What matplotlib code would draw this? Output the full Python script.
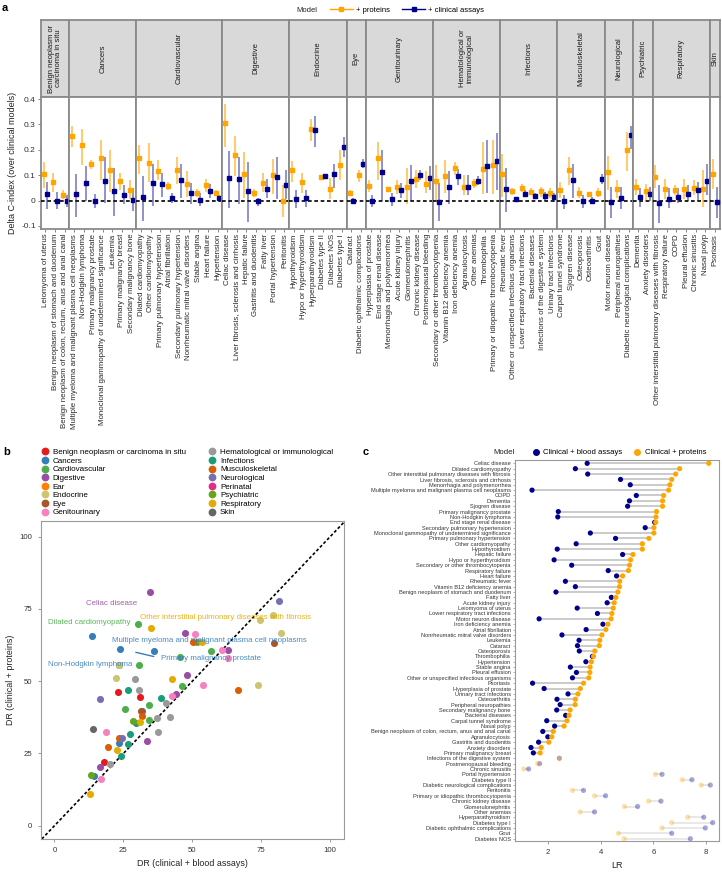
import matplotlib
matplotlib.use("Agg")
import matplotlib.pyplot as plt
from matplotlib.lines import Line2D
from matplotlib.colors import to_rgba
import numpy as np

plt.rcParams['font.family'] = ['Liberation Sans', 'DejaVu Sans']
plt.rcParams['axes.unicode_minus'] = False

# ---------------- Panel a data ----------------
a_groups = ["Benign neoplasm or\ncarcinoma in situ", "Cancers", "Cardiovascular", "Digestive",
            "Endocrine", "Eye", "Genitourinary", "Hematological or\nimmunological", "Infections",
            "Musculoskeletal", "Neurological", "Psychiatric", "Respiratory", "Skin"]
a_group_sizes = [3, 7, 9, 7, 6, 2, 7, 7, 6, 5, 3, 2, 6, 1]
a_diseases = [
    "Leiomyoma of uterus", "Benign neoplasm of stomach and duodenum",
    "Benign neoplasm of colon, rectum, anus and anal canal",
    "Multiple myeloma and malignant plasma cell neoplasms", "Non-Hodgkin lymphoma",
    "Primary malignancy prostate", "Monoclonal gammopathy of undetermined significance",
    "Leukemia", "Primary malignancy breast", "Secondary malignancy bone",
    "Dilated cardiomyopathy", "Other cardiomyopathy", "Primary pulmonary hypertension",
    "Atrial fibrillation", "Secondary pulmonary hypertension", "Nonrheumatic mitral valve disorders",
    "Stable angina", "Heart failure", "Hypertension",
    "Celiac disease", "Liver fibrosis, sclerosis and cirrhosis", "Hepatic failure",
    "Gastritis and duodenitis", "Fatty liver", "Portal hypertension", "Peritonitis",
    "Hypothyroidism", "Hypo or hyperthyroidism", "Hyperparathyroidism", "Diabetes type II",
    "Diabetes NOS", "Diabetes type I",
    "Cataract", "Diabetic ophthalmic complications",
    "Hyperplasia of prostate", "End stage renal disease", "Menorrhagia and polymenorrhea",
    "Acute kidney injury", "Glomerulonephritis", "Chronic kidney disease", "Postmenopausal bleeding",
    "Secondary or other thrombocytopenia", "Vitamin B12 deficiency anemia", "Iron deficiency anemia",
    "Agranulocytosis", "Other anemias", "Thrombophilia", "Primary or idiopathic thrombocytopenia",
    "Rheumatic fever", "Other or unspecified infectious organisms", "Lower respiratory tract infections",
    "Bacterial diseases", "Infections of the digestive system", "Urinary tract infections",
    "Carpal tunnel syndrome", "Sjogren disease", "Osteoporosis", "Osteoarthritis", "Gout",
    "Motor neuron disease", "Peripheral neuropathies", "Diabetic neurological complications",
    "Dementia", "Anxiety disorders",
    "Other interstitial pulmonary diseases with fibrosis", "Respiratory failure", "COPD",
    "Pleural effusion", "Chronic sinusitis", "Nasal polyp",
    "Psoriasis"]
a_prot = [0.103, 0.073, 0.020, 0.253, 0.217, 0.143, 0.167, 0.122, 0.076, 0.042,
          0.167, 0.148, 0.117, 0.057, 0.120, 0.066, 0.031, 0.061, 0.029,
          0.306, 0.180, 0.104, 0.030, 0.070, 0.100, -0.003,
          0.120, 0.072, 0.281, 0.093, 0.047, 0.142,
          0.030, 0.100,
          0.057, 0.168, 0.046, 0.055, 0.053, 0.084, 0.066,
          0.076, 0.097, 0.128, 0.053, 0.069, 0.124, 0.140,
          0.106, 0.037, 0.051, 0.034, 0.036, 0.028,
          0.041, 0.120, 0.029, 0.025, 0.030,
          0.113, 0.045, 0.200,
          0.052, 0.036,
          0.094, 0.045, 0.042, 0.045, 0.049, 0.047,
          0.106]
a_prot_lo = [0.050, 0.035, 0.005, 0.210, 0.140, 0.125, 0.080, 0.035, 0.040, 0.005,
             0.105, 0.075, 0.080, 0.040, 0.065, 0.015, 0.015, 0.035, 0.020,
             0.210, 0.095, 0.010, 0.015, 0.035, 0.025, -0.065,
             0.075, 0.030, 0.235, 0.085, 0.005, 0.080,
             0.020, 0.075,
             0.035, 0.080, 0.035, 0.025, -0.015, 0.050, 0.030,
             0.000, 0.030, 0.100, 0.020, 0.050, 0.025, 0.025,
             0.015, 0.020, 0.035, 0.020, 0.015, 0.010,
             0.010, 0.060, 0.010, 0.015, 0.015,
             0.040, 0.010, 0.115,
             0.020, 0.000,
             0.050, 0.005, 0.020, 0.005, 0.020, -0.025,
             0.045]
a_prot_hi = [0.150, 0.110, 0.040, 0.295, 0.280, 0.160, 0.240, 0.200, 0.110, 0.080,
             0.220, 0.225, 0.160, 0.075, 0.170, 0.115, 0.045, 0.085, 0.040,
             0.380, 0.255, 0.190, 0.045, 0.110, 0.165, 0.060,
             0.155, 0.110, 0.320, 0.100, 0.090, 0.200,
             0.040, 0.120,
             0.080, 0.230, 0.055, 0.080, 0.130, 0.120, 0.115,
             0.140, 0.160, 0.150, 0.100, 0.085, 0.230, 0.240,
             0.185, 0.050, 0.065, 0.050, 0.055, 0.050,
             0.075, 0.170, 0.055, 0.035, 0.050,
             0.175, 0.080, 0.270,
             0.085, 0.065,
             0.140, 0.085, 0.060, 0.085, 0.080, 0.120,
             0.165]
a_clin = [0.025, 0.000, -0.003, 0.025, 0.068, 0.000, 0.079, 0.036, 0.022, 0.004,
          0.013, 0.069, 0.066, 0.010, 0.082, 0.029, 0.003, 0.036, 0.012,
          0.087, 0.085, 0.037, -0.003, 0.045, 0.093, 0.063,
          0.008, 0.009, 0.277, 0.097, 0.103, 0.213,
          0.000, 0.146,
          -0.001, 0.114, 0.005, 0.040, 0.076, 0.101, 0.088,
          -0.004, 0.054, 0.097, 0.053, 0.079, 0.137, 0.155,
          0.047, 0.006, 0.027, 0.017, 0.017, 0.016,
          -0.001, 0.082, 0.000, 0.000, 0.085,
          -0.005, 0.010, 0.257,
          0.013, 0.025,
          -0.008, 0.008, 0.015, 0.027, 0.040, 0.078,
          -0.004]
a_clin_lo = [-0.035, -0.035, -0.025, -0.065, 0.000, -0.030, -0.010, -0.060, -0.015, -0.040,
             -0.080, -0.020, 0.015, -0.010, 0.010, -0.015, -0.020, 0.010, 0.005,
             -0.030, -0.015, -0.085, -0.020, 0.010, 0.005, 0.005,
             -0.030, -0.025, 0.210, 0.085, 0.050, 0.170,
             -0.010, 0.130,
             -0.025, 0.000, -0.020, 0.010, 0.000, 0.080, 0.040,
             -0.080, -0.015, 0.060, 0.020, 0.060, 0.030, 0.040,
             -0.045, -0.005, 0.015, 0.005, 0.000, -0.005,
             -0.035, 0.010, -0.030, -0.015, 0.065,
             -0.070, -0.035, 0.205,
             -0.025, 0.000,
             -0.090, -0.030, -0.010, 0.000, 0.000, 0.020,
             -0.070]
a_clin_hi = [0.075, 0.035, 0.020, 0.105, 0.135, 0.025, 0.170, 0.130, 0.060, 0.050,
             0.095, 0.145, 0.110, 0.030, 0.145, 0.070, 0.030, 0.065, 0.020,
             0.195, 0.170, 0.150, 0.010, 0.085, 0.170, 0.120,
             0.040, 0.040, 0.335, 0.105, 0.145, 0.250,
             0.010, 0.165,
             0.020, 0.200, 0.030, 0.070, 0.140, 0.120, 0.135,
             0.070, 0.115, 0.125, 0.100, 0.095, 0.240, 0.265,
             0.130, 0.015, 0.040, 0.030, 0.035, 0.030,
             0.020, 0.145, 0.020, 0.015, 0.105,
             0.055, 0.055, 0.295,
             0.050, 0.055,
             0.060, 0.050, 0.050, 0.060, 0.075, 0.145,
             0.055]

# ---------------- Panel b data ----------------
b_legend = ["Benign neoplasm or carcinoma in situ", "Cancers", "Cardiovascular", "Digestive", "Ear",
            "Endocrine", "Eye", "Genitourinary", "Hematological or immunological", "Infections",
            "Musculoskeletal", "Neurological", "Perinatal", "Psychiatric", "Respiratory", "Skin"]
b_colors = ["#E41A1C", "#377EB8", "#4DAF4A", "#984EA3", "#FF7F00", "#CCC46E", "#A65628", "#F781BF",
            "#999999", "#1B9E77", "#D95F02", "#7570B3", "#E7298A", "#66A61E", "#E6AB02", "#666666"]
b_cat = (["Benign neoplasm or carcinoma in situ"] * 3 + ["Cancers"] * 7 + ["Cardiovascular"] * 9 +
         ["Digestive"] * 7 + ["Endocrine"] * 6 + ["Eye"] * 2 + ["Genitourinary"] * 7 +
         ["Hematological or immunological"] * 7 + ["Infections"] * 6 + ["Musculoskeletal"] * 5 +
         ["Neurological"] * 3 + ["Psychiatric"] * 2 + ["Respiratory"] * 6 + ["Skin"])
b_x = [22.9, 31.0, 17.9,
       13.7, 23.7, 36.1, 31.6, 23.3, 14.3, 23.5,
       30.3, 51.7, 56.8, 45.5, 30.6, 46.1, 34.3, 25.5, 34.3,
       34.6, 47.3, 63.1, 48.0, 44.0, 33.4, 16.4,
       79.1, 74.4, 82.2, 23.3, 22.2, 73.8,
       79.7, 31.2,
       51.0, 60.7, 62.9, 54.0, 42.5, 18.6, 16.7,
       29.1, 30.6, 40.6, 37.0, 41.8, 37.6, 20.0,
       26.7, 38.8, 27.5, 26.7, 24.3, 29.5,
       50.1, 66.7, 31.8, 23.4, 19.4,
       81.6, 16.4, 24.5,
       13.4, 28.5,
       34.9, 53.4, 42.8, 30.9, 22.5, 12.7,
       13.9]
b_y = [46.4, 44.5, 22.2,
       65.6, 61.0, 60.3, 39.6, 28.5, 17.2, 55.6,
       69.9, 63.7, 60.3, 58.4, 55.7, 48.2, 41.9, 40.3, 36.5,
       80.8, 66.8, 60.9, 52.0, 45.7, 29.2, 20.2,
       73.0, 71.0, 66.8, 55.5, 51.2, 48.8,
       63.2, 39.8,
       66.4, 60.7, 58.0, 48.8, 44.9, 32.5, 16.2,
       50.9, 47.1, 42.6, 37.4, 37.6, 32.3, 21.5,
       47.1, 44.3, 31.6, 28.1, 24.1, 35.6,
       63.5, 47.1, 37.9, 30.5, 27.3,
       77.9, 44.0, 30.2,
       17.6, 36.2,
       68.4, 63.7, 50.6, 35.9, 26.1, 10.8,
       33.4]
b_lab_text = ["Celiac disease", "Dilated cardiomyopathy",
              "Other interstitial pulmonary diseases with fibrosis",
              "Multiple myeloma and malignant plasma cell neoplasms",
              "Primary malignancy prostate", "Non-Hodgkin lymphoma"]
b_lab_cat = ["Digestive", "Cardiovascular", "Respiratory", "Cancers", "Cancers", "Cancers"]
b_lab_x = [11.5, -2.2, 30.9, 21.0, 38.8, -2.2]
b_lab_y = [76.8, 70.4, 72.0, 64.1, 58.0, 55.7]

# ---------------- Panel c data ----------------
c_diseases = [
    "Celiac disease", "Dilated cardiomyopathy", "Other interstitial pulmonary diseases with fibrosis",
    "Liver fibrosis, sclerosis and cirrhosis", "Menorrhagia and polymenorrhea",
    "Multiple myeloma and malignant plasma cell neoplasms", "COPD", "Dementia", "Sjogren disease",
    "Primary malignancy prostate", "Non-Hodgkin lymphoma", "End stage renal disease",
    "Secondary pulmonary hypertension", "Monoclonal gammopathy of undetermined significance",
    "Primary pulmonary hypertension", "Other cardiomyopathy", "Hypothyroidism", "Hepatic failure",
    "Hypo or hyperthyroidism", "Secondary or other thrombocytopenia", "Respiratory failure",
    "Heart failure", "Rheumatic fever", "Vitamin B12 deficiency anemia",
    "Benign neoplasm of stomach and duodenum", "Fatty liver", "Acute kidney injury",
    "Leiomyoma of uterus", "Lower respiratory tract infections", "Motor neuron disease",
    "Iron deficiency anemia", "Atrial fibrillation", "Nonrheumatic mitral valve disorders",
    "Leukemia", "Cataract", "Osteoporosis", "Thrombophilia", "Hypertension", "Stable angina",
    "Pleural effusion", "Other or unspecified infectious organisms", "Psoriasis",
    "Hyperplasia of prostate", "Urinary tract infections", "Osteoarthritis",
    "Peripheral neuropathies", "Secondary malignancy bone", "Bacterial diseases",
    "Carpal tunnel syndrome", "Nasal polyp", "Benign neoplasm of colon, rectum, anus and anal canal",
    "Agranulocytosis", "Gastritis and duodenitis", "Anxiety disorders", "Primary malignancy breast",
    "Infections of the digestive system", "Postmenopausal bleeding", "Chronic sinusitis",
    "Portal hypertension", "Diabetes type II", "Diabetic neurological complications", "Peritonitis",
    "Primary or idiopathic thrombocytopenia", "Chronic kidney disease", "Glomerulonephritis",
    "Other anemias", "Hyperparathyroidism", "Diabetes type I", "Diabetic ophthalmic complications",
    "Gout", "Diabetes NOS"]
c_clin = [3.48, 3.03, 3.50, 4.75, 5.12, 1.38, 5.35, 5.09, 5.02, 2.38, 2.36, 6.05, 5.69, 3.60,
          4.56, 3.06, 2.34, 4.83, 2.22, 2.89, 4.28, 4.60, 2.65, 3.03, 2.29, 4.40, 4.24, 3.10,
          3.87, 1.65, 4.08, 3.44, 2.52, 3.17, 3.11, 3.18, 3.68, 3.43, 2.84, 3.07, 2.92, 1.40,
          1.84, 2.75, 2.33, 2.45, 2.32, 2.66, 1.94, 2.24, 1.79, 1.98, 1.63, 1.34, 1.43,
          2.42, 1.67, 1.25, 6.33, 7.47, 8.17, 3.34, 4.18, 6.29, 5.40, 3.76, 7.92, 8.26, 7.98,
          6.70, 7.41]
c_prot = [8.11, 7.00, 6.85, 6.70, 6.63, 6.58, 6.39, 6.35, 6.35, 6.12, 6.10, 6.09, 6.02, 6.02,
          5.83, 5.58, 5.58, 5.22, 5.13, 5.09, 5.05, 4.83, 4.72, 4.71, 4.65, 4.57, 4.51, 4.47,
          4.42, 4.39, 4.27, 4.19, 4.04, 3.96, 3.94, 3.77, 3.72, 3.64, 3.59, 3.58, 3.54, 3.34,
          3.22, 3.13, 3.03, 3.02, 2.83, 2.79, 2.71, 2.60, 2.19, 2.13, 2.02, 1.73, 1.69,
          2.42, 1.60, 1.06, 6.08, 7.10, 7.82, 2.92, 3.76, 5.82, 4.90, 3.21, 7.31, 6.70, 6.33,
          4.67, 4.89]

ORANGE = "#FFA500"
NAVY = "#00008B"
W, H = 722, 873
fig = plt.figure(figsize=(W / 100, H / 100), dpi=100)

def fx(px):
    return px / W

def fy(py):
    return 1 - py / H

# ---------------- Panel a ----------------
gs = fig.add_gridspec(2, len(a_groups), width_ratios=a_group_sizes, height_ratios=[77, 132],
                      left=fx(40.7), right=fx(719.5), top=fy(20), bottom=fy(229),
                      wspace=0, hspace=0)
BORDER = "#8a8a8a"
start = 0
for j, (grp, n) in enumerate(zip(a_groups, a_group_sizes)):
    sl = slice(start, start + n)
    start += n
    axs = fig.add_subplot(gs[0, j])
    axs.set_facecolor("#D9D9D9")
    axs.set_xticks([]); axs.set_yticks([])
    for sp in axs.spines.values():
        sp.set_color(BORDER); sp.set_linewidth(1.3)
    axs.text(0.5, 0.5, grp, rotation=90, ha="center", va="center", fontsize=5.5,
             color="#1a1a1a", transform=axs.transAxes, linespacing=1.0)
    ax = fig.add_subplot(gs[1, j])
    xs = np.arange(n)
    d = 0.2
    ax.vlines(xs - d, a_prot_lo[sl], a_prot_hi[sl], color=ORANGE, lw=1.1, alpha=0.75, zorder=2)
    ax.vlines(xs + d, a_clin_lo[sl], a_clin_hi[sl], color=NAVY, lw=1.1, alpha=0.55, zorder=2)
    ax.axhline(0, color="black", lw=1.2, ls=(0, (2.2, 1.6)), zorder=3)
    ax.plot(xs - d, a_prot[sl], "s", color=ORANGE, ms=2.6, zorder=4)
    ax.plot(xs + d, a_clin[sl], "s", color=NAVY, ms=2.6, zorder=4)
    ax.set_xlim(-0.5, n - 0.5)
    ax.set_ylim(-0.112, 0.408)
    ax.set_xticks(xs)
    ax.set_xticklabels(a_diseases[sl], rotation=90, fontsize=5.65, color="#2a2a2a")
    ax.tick_params(axis="x", length=2, width=0.5, color="#555555", pad=1.5)
    if j == 0:
        ax.set_yticks([-0.1, 0, 0.1, 0.2, 0.3, 0.4])
        ax.set_yticklabels(["-0.1", "0", "0.1", "0.2", "0.3", "0.4"], fontsize=6, color="#333333")
        ax.tick_params(axis="y", length=2, width=0.5, color="#555555", pad=1.5)
        ax.set_ylabel("Delta C-index (over clinical models)", fontsize=6.5, color="#222222", labelpad=3)
    else:
        ax.set_yticks([])
    for sp in ax.spines.values():
        sp.set_color(BORDER); sp.set_linewidth(1.3)

fig.text(fx(296), fy(10), "Model", fontsize=5.5, va="center", ha="left", color="#222222")
fig.legend(handles=[Line2D([], [], color=ORANGE, marker="s", ms=2.4, lw=1),
                    Line2D([], [], color=NAVY, marker="s", ms=2.4, lw=1)],
           labels=["+ proteins", "+ clinical assays"], ncol=2, loc="center left",
           bbox_to_anchor=(fx(330), fy(10)), frameon=False, fontsize=5.5, handlelength=3.0,
           columnspacing=1.6, handletextpad=0.4, borderaxespad=0, borderpad=0)

# ---------------- Panel b ----------------
axb = fig.add_axes([fx(40.7), fy(839), fx(344) - fx(40.7), fy(521) - fy(839)])
col_of = dict(zip(b_legend, b_colors))
bx = np.array(b_x); by = np.array(b_y); bc = np.array(b_cat)
for cat in b_legend:
    m = bc == cat
    if m.any():
        axb.scatter(bx[m], by[m], s=26, color=col_of[cat], lw=0, zorder=3)
axb.axline((0, 0), slope=1, color="black", lw=1.2, ls=(0, (1.8, 1.3)), zorder=2)
for t, c, x, y in zip(b_lab_text, b_lab_cat, b_lab_x, b_lab_y):
    axb.text(x, y, t, color=col_of[c], fontsize=5.7, va="center", ha="left", alpha=0.9, zorder=5)
i_pp = b_lab_text.index("Primary malignancy prostate")
axb.annotate("", xy=(b_lab_x[i_pp] - 1.8, b_lab_y[i_pp] + 0.3), xytext=(28.5, 60.2),
             arrowprops=dict(arrowstyle="-", color=col_of["Cancers"], lw=1.0))
axb.set_xlim(-5, 105); axb.set_ylim(-4.6, 105.4)
axb.set_xticks([0, 25, 50, 75, 100]); axb.set_yticks([0, 25, 50, 75, 100])
axb.tick_params(labelsize=5.6, length=2.5, width=0.5, color="#777777", labelcolor="#333333")
axb.set_xlabel("DR (clinical + blood assays)", fontsize=6.4, color="#222222", labelpad=3)
axb.set_ylabel("DR (clinical + proteins)", fontsize=6.4, color="#222222", labelpad=3)
for sp in axb.spines.values():
    sp.set_color("#9a9a9a"); sp.set_linewidth(0.8)

hb = [Line2D([], [], ls="", marker="o", ms=4.6, color=c) for c in b_colors]
fig.legend(handles=hb, labels=b_legend, ncol=2, loc="upper left", bbox_to_anchor=(fx(41), fy(448.5)),
           frameon=False, fontsize=5.8, handlelength=0.9, handletextpad=0.55, labelspacing=0.12,
           columnspacing=2.8, borderaxespad=0, borderpad=0)

# ---------------- Panel c ----------------
axc = fig.add_axes([fx(514.7), fy(841), fx(719) - fx(514.7), fy(460) - fy(841)])
yc = np.arange(len(c_diseases))
cc = np.array(c_clin); cp = np.array(c_prot)
faded = cc >= cp
for i in yc:
    axc.plot([cc[i], cp[i]], [i, i], color="#bdbdbd", lw=1.1, alpha=0.45 if faded[i] else 1.0,
             zorder=1, solid_capstyle="butt")
alphas = np.where(faded, 0.35, 1.0)
axc.scatter(cc, yc, s=14, lw=0, zorder=3, c=[to_rgba(NAVY, a) for a in alphas])
axc.scatter(cp, yc, s=14, lw=0, zorder=4, c=[to_rgba(ORANGE, a) for a in alphas])
axc.set_ylim(len(c_diseases) - 1 + 0.43, -0.62)
axc.set_xlim(0.72, 8.5)
axc.set_yticks(yc)
axc.set_yticklabels(c_diseases, fontsize=4.1, color="#333333")
axc.set_xticks([2, 4, 6, 8])
axc.tick_params(axis="y", length=1.8, width=0.4, pad=1, color="#777777")
axc.tick_params(axis="x", labelsize=5.6, length=2.5, width=0.5, color="#777777", labelcolor="#333333")
axc.set_xlabel("LR", fontsize=6.5, color="#222222", labelpad=3)
for sp in axc.spines.values():
    sp.set_color("#9a9a9a"); sp.set_linewidth(0.8)

fig.text(fx(493), fy(452.7), "Model", fontsize=5.6, va="center", ha="left", color="#222222")
fig.legend(handles=[Line2D([], [], ls="", marker="o", ms=4, color=NAVY),
                    Line2D([], [], ls="", marker="o", ms=4, color=ORANGE)],
           labels=["Clinical + blood assays", "Clinical + proteins"], ncol=2, loc="center left",
           bbox_to_anchor=(fx(532), fy(452.7)), frameon=False, fontsize=5.6, handlelength=0.9,
           handletextpad=0.5, columnspacing=1.5, borderaxespad=0, borderpad=0)

# panel letters
fig.text(fx(2), fy(8), "a", fontsize=8, fontweight="bold", va="center", ha="left")
fig.text(fx(3), fy(452), "b", fontsize=8, fontweight="bold", va="center", ha="left")
fig.text(fx(363), fy(452), "c", fontsize=8, fontweight="bold", va="center", ha="left")

fig.savefig("out.png", dpi=100)
